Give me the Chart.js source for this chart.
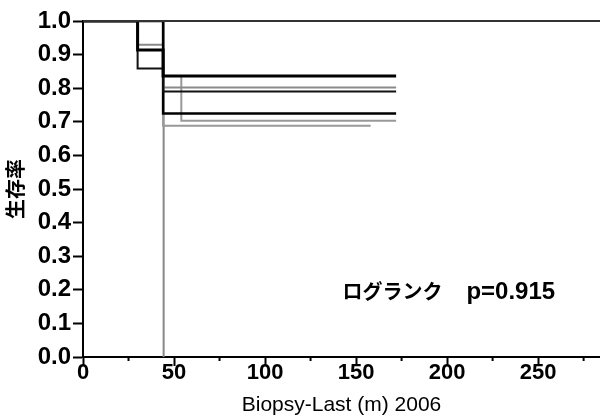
<!DOCTYPE html>
<html><head><meta charset="utf-8">
<script src="https://cdn.jsdelivr.net/npm/chart.js@4.4.1/dist/chart.umd.min.js"></script>
<style>html,body{margin:0;padding:0;background:#fff;}</style>
</head><body>
<canvas id="c" width="600" height="418"></canvas>
<script>
// ---- data ----
const xTickValues = [0, 25, 50, 75, 100, 125, 150, 175, 200, 225, 250, 275];
const yTickValues = [0, 0.1, 0.2, 0.3, 0.4, 0.5, 0.6, 0.7, 0.8, 0.9, 1.0];

const curveA_t = [0, 30, 44, 172];
const curveA_s = [1, 0.914, 0.836, 0.836];
const curveB_t = [0, 30, 44, 172];
const curveB_s = [1, 0.859, 0.790, 0.790];
const curveC_t = [0, 44, 172];
const curveC_s = [1, 0.725, 0.725];
const curveD_t = [0, 30, 44, 172];
const curveD_s = [1, 0.929, 0.802, 0.802];
const curveE_t = [0, 44, 54, 172];
const curveE_s = [1, 0.836, 0.703, 0.703];
const curveF_t = [0, 44, 158];
const curveF_s = [1, 0.688, 0.688];
const curveG_t = [0, 44.3];
const curveG_s = [1, 0];

const annotationJa = 'ログランク';
const annotationP = 'p=0.915';
const annotationX = 142.5;
const annotationY = 0.195;

const xTitle = 'Biopsy-Last (m) 2006';
const yTitle = '生存率';

function pts(t, s) { return t.map((v, i) => ({x: v, y: s[i]})); }

function ds(t, s, color, width, order) {
  return {data: pts(t, s), borderColor: color, borderWidth: width, stepped: 'before',
          pointRadius: 0, fill: false, order: order, tension: 0};
}

const latin = '"Liberation Sans", Arial, sans-serif';
const cjk = '"Noto Sans CJK JP", sans-serif';

const extras = {
  id: 'extras',
  afterDraw(chart) {
    const {ctx, chartArea, scales} = chart;
    ctx.save();
    // top frame line
    ctx.strokeStyle = '#333';
    ctx.lineWidth = 2;
    ctx.beginPath();
    ctx.moveTo(chartArea.left, chartArea.top);
    ctx.lineTo(chartArea.right, chartArea.top);
    ctx.stroke();
    // minor x ticks
    ctx.strokeStyle = '#000';
    ctx.lineWidth = 2;
    xTickValues.forEach(v => {
      if (v % 50 !== 0) {
        const px = scales.x.getPixelForValue(v);
        ctx.beginPath();
        ctx.moveTo(px, chartArea.bottom);
        ctx.lineTo(px, chartArea.bottom + 4);
        ctx.stroke();
      }
    });
    // annotation
    const ax = scales.x.getPixelForValue(annotationX);
    const ay = scales.y.getPixelForValue(annotationY);
    ctx.fillStyle = '#000';
    ctx.textBaseline = 'middle';
    ctx.textAlign = 'left';
    ctx.font = 'bold 20px ' + cjk;
    ctx.fillText(annotationJa, ax, ay);
    const w = ctx.measureText(annotationJa).width;
    ctx.font = 'bold 24px ' + latin;
    ctx.fillText(annotationP, ax + w + 24, ay + 1);
    ctx.restore();
  }
};

new Chart(document.getElementById('c'), {
  type: 'line',
  data: {
    datasets: [
      ds(curveA_t, curveA_s, '#000', 3, 1),
      ds(curveB_t, curveB_s, '#111', 2, 2),
      ds(curveC_t, curveC_s, '#000', 2.5, 3),
      ds(curveD_t, curveD_s, '#8a8a8a', 2, 4),
      ds(curveE_t, curveE_s, '#999', 2, 5),
      ds(curveF_t, curveF_s, '#999', 2, 6),
      ds(curveG_t, curveG_s, '#888', 2, 7)
    ]
  },
  options: {
    responsive: false,
    devicePixelRatio: 1,
    animation: false,
    layout: {padding: {top: 21, right: 0, left: 0, bottom: 0}},
    plugins: {legend: {display: false}, tooltip: {enabled: false}},
    scales: {
      x: {
        type: 'linear', min: 0, max: 284, position: 'bottom',
        afterBuildTicks: s => { s.ticks = xTickValues.map(v => ({value: v})); },
        afterFit: s => { s.height = 61; },
        ticks: {
          callback: v => (v % 50 === 0 ? String(v) : ''),
          font: {family: latin, size: 22, weight: 'bold'}, color: '#000',
          padding: -6, maxRotation: 0, autoSkip: false
        },
        grid: {
          drawOnChartArea: false, drawTicks: true, tickLength: 9,
          tickColor: c => (c.tick && c.tick.value % 50 === 0 ? '#000' : 'rgba(0,0,0,0)'),
          tickWidth: 2
        },
        border: {display: true, color: '#000', width: 2},
        title: {display: true, text: xTitle, color: '#000',
                font: {family: latin, size: 21, weight: 'normal'}, padding: {top: 0, bottom: 0}}
      },
      y: {
        type: 'linear', min: 0, max: 1,
        afterBuildTicks: s => { s.ticks = yTickValues.map(v => ({value: v})); },
        afterFit: s => { s.width = 83; },
        ticks: {
          callback: v => Number(v).toFixed(1),
          font: {family: latin, size: 24, weight: 'bold'}, color: '#000', padding: 2
        },
        grid: {drawOnChartArea: false, drawTicks: true, tickLength: 10, tickColor: '#000', tickWidth: 2},
        border: {display: true, color: '#000', width: 2},
        title: {display: true, text: yTitle, color: '#000',
                font: {family: cjk, size: 20, weight: 'bold'}, padding: {top: 3, bottom: 0}}
      }
    }
  },
  plugins: [extras]
});
</script>
</body></html>
